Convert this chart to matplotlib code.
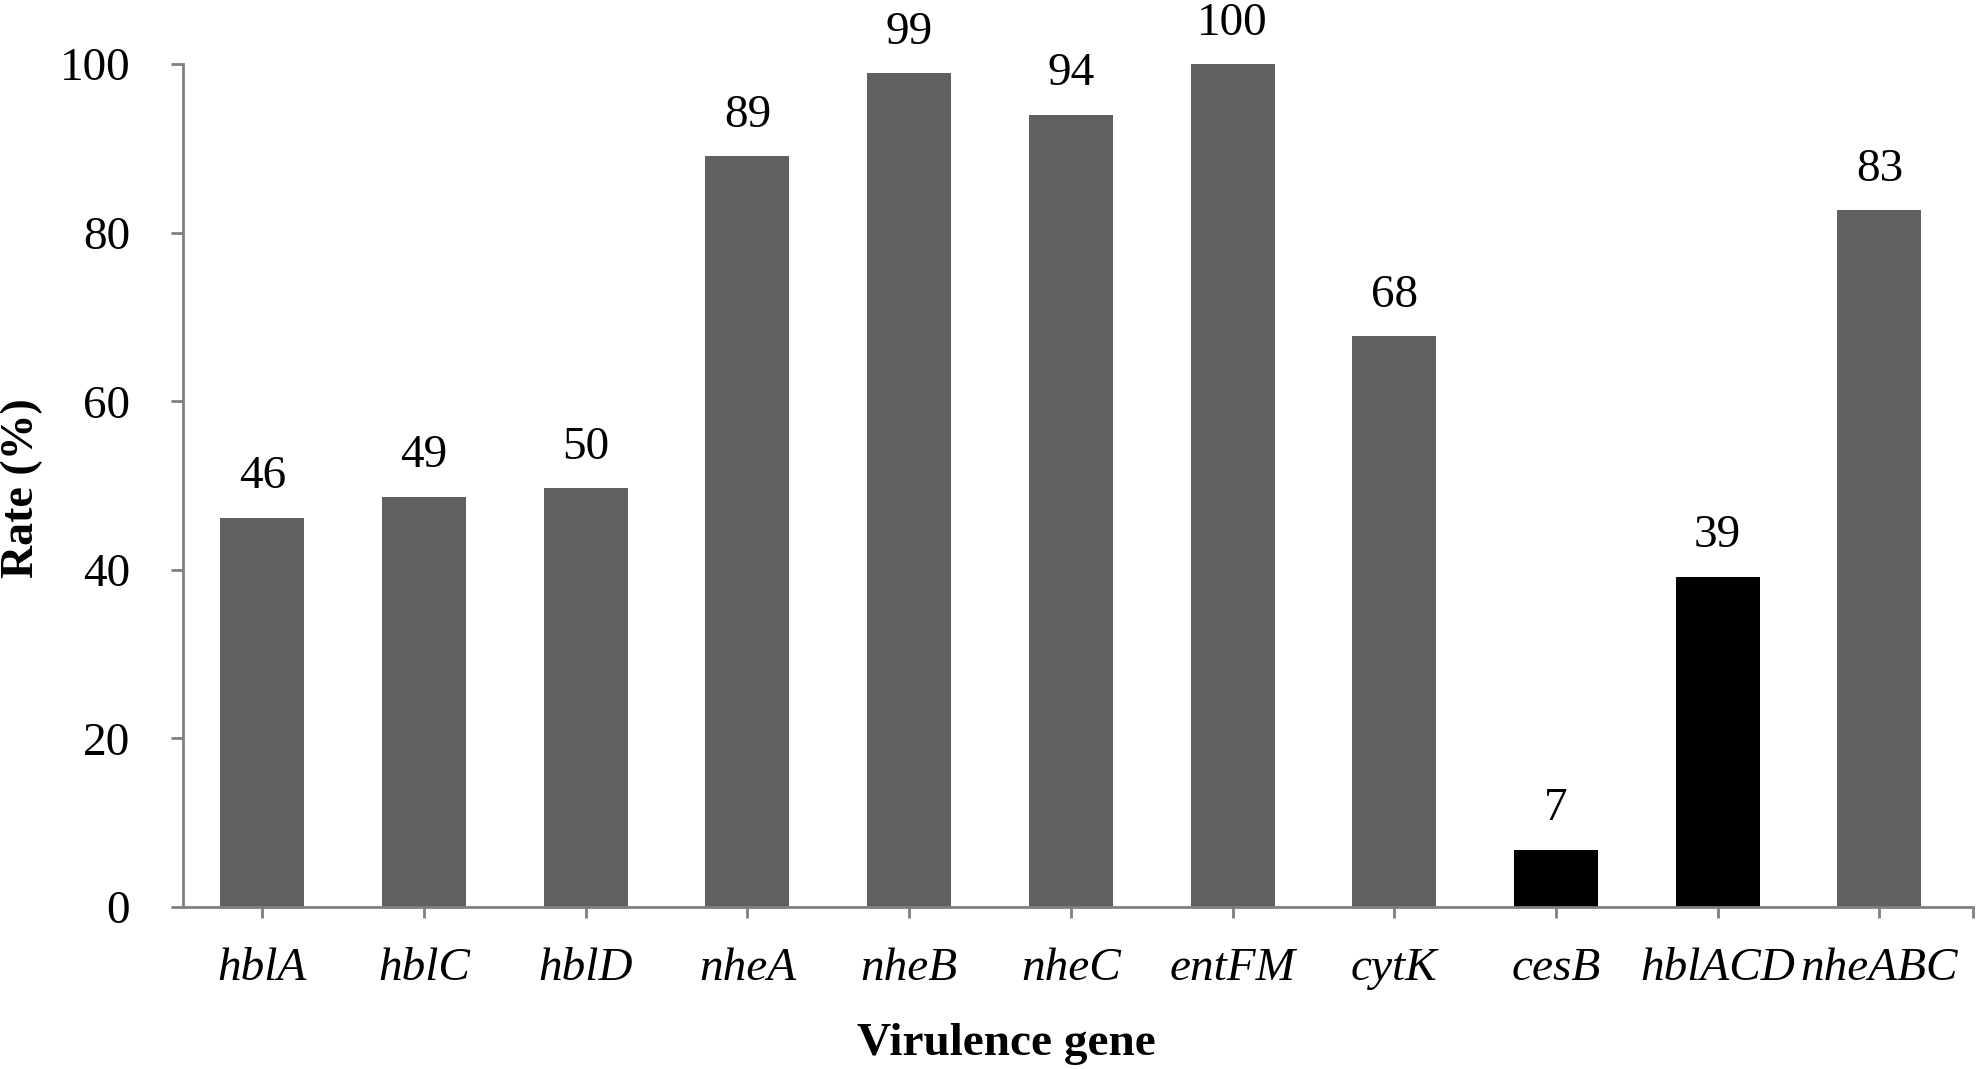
import matplotlib.pyplot as plt

genes = ['hblA', 'hblC', 'hblD', 'nheA', 'nheB', 'nheC', 'entFM', 'cytK', 'cesB', 'hblACD', 'nheABC']
rates = [46.2, 48.7, 49.7, 89.1, 98.9, 94.0, 100.0, 67.7, 6.8, 39.2, 82.7]
labels = ['46', '49', '50', '89', '99', '94', '100', '68', '7', '39', '83']
dark = ['cesB', 'hblACD']
yticks = [0, 20, 40, 60, 80, 100]

plt.rcParams['font.family'] = ['Liberation Serif', 'DejaVu Serif']

fig = plt.figure(figsize=(19.76, 10.69), dpi=100)
ax = fig.add_axes([0.0926, 0.1515, 0.906, 0.7885])

colors = ['#000000' if g in dark else '#606060' for g in genes]
x = range(len(genes))
ax.bar(x, rates, width=0.52, color=colors)

for i, v in enumerate(rates):
    ax.annotate(labels[i], (i, v), xytext=(0, 14), textcoords='offset points',
                ha='center', va='bottom', fontsize=34)

ax.set_xlim(-0.49, 10.58)
ax.set_ylim(0, 100)
ax.set_yticks(yticks)
ax.set_yticklabels([str(t) for t in yticks], fontsize=34)
ax.set_xticks(list(x))
ax.set_xticklabels(genes, fontsize=34, style='italic')
ax.set_xticks([10.58], minor=True)

for s in ['top', 'right']:
    ax.spines[s].set_visible(False)
for s in ['left', 'bottom']:
    ax.spines[s].set_color('#808080')
    ax.spines[s].set_linewidth(2)

ax.tick_params(axis='y', which='major', direction='out', length=9, width=2, color='#808080', pad=29)
ax.tick_params(axis='x', which='both', direction='out', length=8, width=2, color='#808080', pad=21)

ax.set_xlabel('Virulence gene', fontsize=34, fontweight='bold', va='baseline')
ax.xaxis.set_label_coords(0.46, -0.1756)
ax.set_ylabel('Rate (%)', fontsize=33, fontweight='bold')
ax.yaxis.set_label_coords(-0.078, 0.497)

plt.savefig('out.png', dpi=100)
